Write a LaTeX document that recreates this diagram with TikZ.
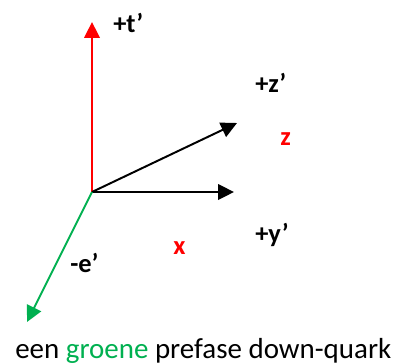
\documentclass[tikz,border=0pt]{standalone}
\usepackage{fontspec}
\setmainfont{Carlito}
\usepackage{tikz}
\usetikzlibrary{arrows.meta}
\definecolor{timeRed}{RGB}{255,0,0}
\definecolor{colourGreen}{RGB}{0,176,80}
\definecolor{axisBlack}{RGB}{0,0,0}

\begin{document}
\begin{tikzpicture}[
    x=0.025cm, y=-0.025cm,
    % Axis arrow, coloured by parameter
    axis/.style={
        draw=#1, line width=1.4pt,
        -{Triangle[length=11.3pt, width=11pt]}
    },
    axis/.default=axisBlack,
    % Bold axis label
    lbl/.style={
        anchor=base west, inner sep=0pt,
        font=\fontsize{18.8}{22}\selectfont\bfseries
    },
    captext/.style={
        anchor=base west, inner sep=0pt,
        font=\fontsize{20.6}{24}\selectfont
    }
]
\useasboundingbox (0,0) rectangle (400,363);
% ── AXIS ENDS ─────────────────────────────────────────────────
\coordinate (orig) at (92,192);
\coordinate (tip-t) at (92,22);
\coordinate (tip-z) at (237,123);
\coordinate (tip-y) at (234,192);
\coordinate (tip-e) at (27,322);
% ── ARROWS ────────────────────────────────────────────────────
\draw[axis=timeRed]     (orig) -- (tip-t);
\draw[axis]             (orig) -- (tip-z);
\draw[axis]             (orig) -- (tip-y);
\draw[axis=colourGreen] (orig) -- (tip-e);
% ── LABELS ────────────────────────────────────────────────────
\node[lbl]                 (lab-t) at (113,32)  {+t’};
\node[lbl]                 (lab-z) at (255,92)  {+z’};
\node[lbl, text=timeRed]   (red-z) at (280,145) {z};
\node[lbl]                 (lab-y) at (255,242) {+y’};
\node[lbl, text=timeRed]   (red-x) at (173,254) {x};
\node[lbl]                 (lab-e) at (70,272)  {-e’};
% ── CAPTION ───────────────────────────────────────────────────
\node[captext] (caption) at (15,358)
    {een \textcolor{colourGreen}{groene} prefase down-quark};
\end{tikzpicture}
\end{document}
